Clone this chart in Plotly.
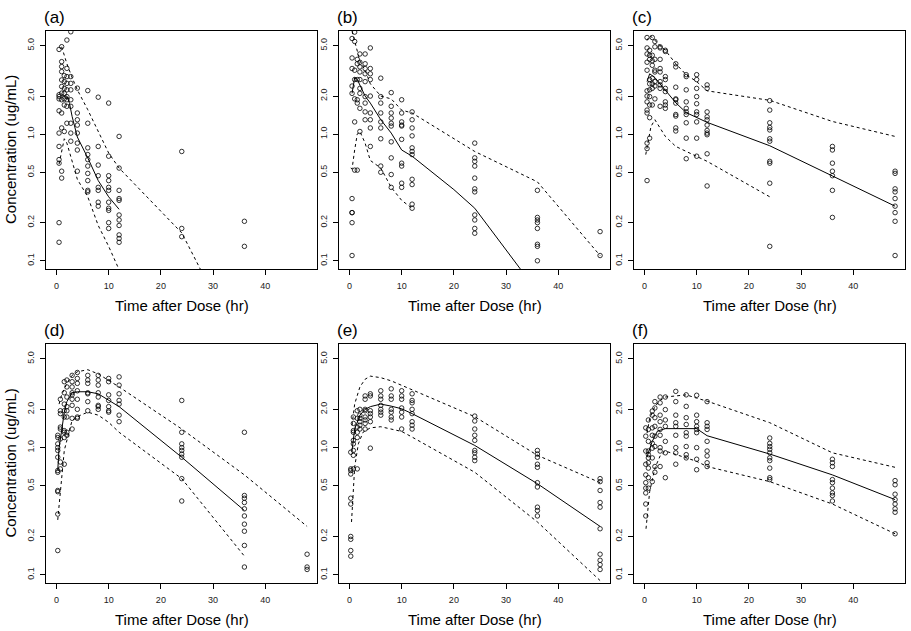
import plotly.graph_objects as go

# ---------------- data ----------------
# observed concentrations (ug/mL) grouped by nominal time (hr)
obs_t_a = [0.5, 1, 1.5, 2, 2.75, 4, 6, 8, 10, 12, 24, 36]
obs_c_a = [[4.67, 1.53, 1.02, 0.80, 0.63, 0.59, 0.20, 0.14, 1.98, 2.05, 1.9],
           [4.91, 3.74, 3.42, 3.12, 2.68, 2.38, 2.11, 1.87, 1.47, 1.12, 0.51, 0.45],
           [2.9, 2.6, 2.3, 2.1, 1.9, 1.7, 1.05],
           [5.54, 3.31, 2.85, 2.52, 2.24, 1.98, 1.87, 1.66, 1.22],
           [6.44, 2.85, 2.52, 2.24, 1.87, 1.66, 1.22, 1.02, 0.88],
           [2.31, 1.47, 1.30, 1.18, 1.02, 0.85, 0.75, 0.51],
           [2.21, 1.22, 0.78, 0.69, 0.63, 0.56, 0.49, 0.43, 0.36, 0.35],
           [1.96, 0.80, 0.57, 0.47, 0.38, 0.36, 0.29, 0.27],
           [1.76, 0.67, 0.47, 0.43, 0.38, 0.36, 0.29, 0.26, 0.25, 0.20, 0.18],
           [0.96, 0.54, 0.36, 0.31, 0.30, 0.23, 0.21, 0.19, 0.16, 0.15, 0.14],
           [0.73, 0.18, 0.155],
           [0.205, 0.13]]
med_t_a = [1, 2, 2.5, 3, 4, 6, 8, 10, 12]
med_a = [2.0, 2.0, 1.75, 1.38, 0.95, 0.65, 0.43, 0.32, 0.255]
up_t_a = [1, 2, 3, 4, 6, 8, 10, 12, 24, 36]
up_a = [4.9, 3.6, 2.8, 2.24, 1.56, 1.05, 0.71, 0.54, 0.166, 0.018]
lo_t_a = [0.5, 1.5, 2, 3, 4, 6, 8, 10, 12]
lo_a = [0.58, 0.92, 0.85, 0.6, 0.44, 0.32, 0.19, 0.13, 0.085]

obs_t_b = [0.5, 1, 1.5, 2, 3, 4, 6, 8, 10, 12, 24, 36, 48]
obs_c_b = [[5.7, 4.0, 3.3, 2.4, 2.1, 0.31, 0.24, 0.24, 0.2, 0.11],
           [6.4, 5.4, 3.2, 2.7, 1.9, 1.25, 0.52],
           [3.9, 3.6, 2.7, 1.87, 1.76, 0.52],
           [4.3, 3.7, 3.4, 3.1, 2.7, 2.3, 2.1, 1.6, 1.05],
           [4.3, 3.6, 3.3, 3.0, 2.6, 1.98, 1.76, 1.5, 1.3],
           [4.8, 3.3, 3.0, 2.7, 2.0, 1.47, 1.3, 1.12, 0.8],
           [2.77, 1.98, 1.76, 1.47, 1.25, 1.12, 0.92, 0.56, 0.5],
           [2.13, 1.66, 1.47, 1.34, 1.22, 1.16, 0.87, 0.65, 0.48, 0.38],
           [1.87, 1.47, 1.25, 1.18, 1.16, 0.91, 0.59, 0.56, 0.41, 0.38],
           [1.5, 1.3, 1.12, 0.97, 0.78, 0.73, 0.69, 0.44, 0.4, 0.28, 0.26],
           [0.85, 0.65, 0.61, 0.56, 0.45, 0.37, 0.35, 0.23, 0.21, 0.18, 0.165],
           [0.36, 0.22, 0.21, 0.2, 0.18, 0.135, 0.13, 0.1],
           [0.17, 0.11]]
med_t_b = [0.5, 1, 1.5, 2, 3, 4, 6, 8, 10, 12, 20, 24, 36]
med_b = [2.1, 2.8, 2.7, 2.45, 2.0, 1.76, 1.3, 1.02, 0.75, 0.67, 0.365, 0.26, 0.057]
up_t_b = [0.5, 1, 2, 3, 4, 6, 8, 10, 12, 24, 36, 48]
up_b = [6.5, 5.5, 3.8, 3.2, 2.5, 2.0, 1.9, 1.55, 1.47, 0.73, 0.42, 0.11]
lo_t_b = [0.25, 0.5, 1, 1.5, 2, 3, 4, 6, 8, 10, 12]
lo_b = [0.54, 0.53, 0.75, 1.0, 1.05, 0.85, 0.62, 0.54, 0.38, 0.3, 0.26]

obs_t_c = [0.5, 1, 1.5, 2, 3, 4, 6, 8, 10, 12, 24, 36, 48]
obs_c_c = [[5.8, 4.8, 3.7, 3.2, 4.3, 2.2, 2.0, 1.8, 1.55, 1.47, 0.85, 0.77, 0.43],
           [4.6, 4.2, 3.9, 2.7, 2.5, 2.24, 1.98, 1.7, 1.35, 0.93],
           [5.8, 4.2, 3.8, 3.5, 2.77, 2.5, 2.3, 1.7],
           [5.4, 4.9, 3.9, 3.2, 3.1, 2.6, 2.4, 1.9],
           [4.9, 4.8, 3.9, 3.3, 3.1, 2.6, 2.45, 2.3, 1.66],
           [4.6, 4.5, 2.85, 2.7, 2.3, 2.17, 1.8, 1.7, 1.6],
           [3.6, 3.4, 2.35, 1.9, 1.87, 1.76, 1.43, 1.39, 1.12, 1.06],
           [2.95, 2.85, 2.24, 1.8, 1.6, 1.5, 1.43, 1.23, 0.93, 0.64],
           [2.95, 2.7, 2.3, 1.98, 1.74, 1.5, 1.43, 1.25, 0.93, 0.67],
           [2.45, 2.3, 1.5, 1.37, 1.3, 1.18, 1.07, 1.02, 0.99, 0.7, 0.39],
           [1.84, 1.55, 1.23, 1.13, 1.08, 0.92, 0.88, 0.61, 0.59, 0.41, 0.13],
           [0.8, 0.75, 0.59, 0.51, 0.47, 0.36, 0.22],
           [0.51, 0.49, 0.37, 0.35, 0.31, 0.27, 0.24, 0.205, 0.11]]
med_t_c = [0.5, 1, 2, 3, 4, 6, 8, 10, 12, 24, 36, 48]
med_c = [2.6, 3.0, 2.8, 2.5, 2.2, 1.77, 1.48, 1.35, 1.24, 0.81, 0.47, 0.27]
up_t_c = [0.5, 1, 1.5, 2, 3, 4, 6, 8, 10, 12, 24, 36, 48]
up_c = [5.5, 6.0, 5.8, 5.5, 5.0, 4.6, 3.6, 2.95, 2.6, 2.2, 1.85, 1.26, 0.96]
lo_t_c = [0.25, 0.75, 1.25, 2, 3, 4, 6, 10, 12, 24]
lo_c = [0.69, 0.9, 1.15, 1.3, 1.12, 0.96, 0.8, 0.67, 0.61, 0.32]

obs_t_d = [0.25, 0.75, 1.5, 2, 3, 4, 6, 8, 10, 12, 24, 36, 48]
obs_c_d = [[0.155, 0.30, 0.45, 0.46, 0.64, 0.66, 0.84, 0.95, 1.0, 1.07, 1.2, 1.25],
           [0.68, 0.77, 1.17, 1.4, 1.45, 1.85, 1.95, 2.4],
           [1.36, 1.32, 1.74, 1.95, 2.2, 2.7, 3.3, 0.74, 1.2],
           [3.4, 3.0, 2.5, 2.1, 1.95, 1.74, 1.32, 1.25],
           [3.7, 3.3, 3.0, 2.7, 2.6, 2.4, 2.15, 1.7, 1.4],
           [3.9, 3.5, 3.2, 2.8, 2.4, 2.0, 1.74, 1.7],
           [3.7, 3.4, 3.2, 2.7, 2.65, 2.3, 1.95],
           [3.7, 3.4, 3.1, 2.7, 2.5, 2.15, 2.1, 2.0],
           [3.5, 3.3, 2.6, 2.35, 2.1, 1.95, 1.9],
           [3.6, 3.1, 2.65, 2.35, 2.2, 1.8, 1.6],
           [2.35, 1.32, 1.07, 1.0, 0.95, 0.89, 0.84, 0.57, 0.38],
           [1.32, 0.42, 0.4, 0.37, 0.33, 0.29, 0.25, 0.22, 0.17, 0.115],
           [0.145, 0.115, 0.11]]
med_t_d = [0.25, 0.5, 1, 1.5, 2, 3, 4, 6, 8, 10, 12, 24, 36]
med_d = [0.66, 1.0, 1.36, 1.9, 2.3, 2.7, 2.75, 2.75, 2.65, 2.35, 2.1, 0.84, 0.32]
up_t_d = [0.5, 1, 2, 3, 4, 6, 8, 10, 12, 24, 36, 48]
up_d = [2.2, 2.6, 3.2, 3.7, 3.95, 4.1, 3.8, 3.4, 3.0, 1.4, 0.61, 0.24]
lo_t_d = [0.25, 1, 1.5, 3, 4.5, 6, 8, 10, 12, 24, 36]
lo_d = [0.27, 0.55, 0.95, 1.64, 1.79, 1.9, 1.8, 1.58, 1.32, 0.57, 0.14]

obs_t_e = [0.25, 0.75, 1.5, 2, 3, 4, 6, 8, 10, 12, 24, 36, 48]
obs_c_e = [[0.14, 0.155, 0.19, 0.2, 0.36, 0.4, 0.62, 0.66, 0.68, 0.92],
           [0.68, 0.87, 1.07, 1.14, 1.36, 1.55, 1.74, 1.32, 0.95],
           [1.45, 1.32, 1.2, 1.7, 1.95, 0.68],
           [2.0, 1.8, 1.6, 1.4, 1.5, 1.7],
           [2.55, 2.4, 1.95, 1.74, 1.65, 1.55, 1.4, 2.0],
           [2.65, 2.55, 1.95, 1.85, 1.74, 1.6, 0.99],
           [2.8, 2.55, 2.4, 2.15, 2.0, 1.9, 1.8],
           [2.9, 2.55, 2.4, 2.0, 1.9, 1.74, 1.65],
           [2.8, 2.55, 2.4, 2.05, 1.9, 1.74, 1.4],
           [2.65, 2.35, 2.25, 2.0, 1.85, 1.6, 1.5, 1.4],
           [1.77, 1.62, 1.4, 1.25, 1.14, 0.95, 0.91, 0.84, 0.79],
           [0.95, 0.89, 0.84, 0.74, 0.7, 0.53, 0.49, 0.34, 0.32, 0.29],
           [0.57, 0.54, 0.46, 0.37, 0.34, 0.23, 0.145, 0.13, 0.12, 0.11]]
med_t_e = [0.5, 1, 2, 3, 4, 6, 8, 10, 12, 24, 36, 48]
med_e = [0.95, 1.4, 1.8, 2.0, 2.1, 2.2, 2.12, 2.02, 1.85, 1.04, 0.52, 0.24]
up_t_e = [0.5, 1, 2, 3, 4, 6, 8, 10, 12, 24, 36, 48]
up_e = [1.5, 2.2, 3.0, 3.45, 3.65, 3.55, 3.35, 3.1, 2.85, 1.75, 0.87, 0.53]
lo_t_e = [0.4, 0.7, 1, 1.7, 2.6, 4, 6, 10, 12, 24, 36, 48]
lo_e = [0.26, 0.46, 0.7, 1.07, 1.32, 1.43, 1.46, 1.34, 1.21, 0.64, 0.26, 0.09]

obs_t_f = [0.25, 0.75, 1.5, 2, 3, 4, 6, 8, 10, 12, 24, 36, 48]
obs_c_f = [[0.29, 0.36, 0.44, 0.48, 0.53, 0.61, 0.74, 0.94, 1.23, 1.43],
           [0.58, 0.69, 0.76, 0.83, 0.88, 0.94, 1.12, 1.39, 1.65, 0.48],
           [1.8, 1.94, 1.25, 1.08, 0.99, 0.83, 0.54, 1.43],
           [2.3, 2.05, 1.72, 1.47, 1.23, 1.02, 0.71, 0.64],
           [2.5, 2.25, 1.8, 1.6, 1.39, 1.25, 1.0, 0.94, 0.71],
           [2.5, 1.99, 1.65, 1.47, 1.12, 0.91, 0.58],
           [2.77, 2.3, 1.8, 1.57, 1.47, 1.25, 1.0, 0.91, 0.74],
           [2.6, 2.11, 1.72, 1.52, 1.31, 1.23, 1.02, 0.88, 0.83],
           [2.58, 1.8, 1.6, 1.47, 1.39, 1.31, 1.0, 0.81, 0.67],
           [2.3, 1.57, 1.47, 1.39, 1.12, 0.94, 0.86, 0.76, 0.71],
           [1.19, 1.08, 1.02, 0.97, 0.91, 0.83, 0.79, 0.69, 0.58, 0.56],
           [0.81, 0.76, 0.71, 0.56, 0.53, 0.48, 0.44, 0.42, 0.38],
           [0.55, 0.51, 0.43, 0.39, 0.36, 0.33, 0.31, 0.21]]
med_t_f = [0.5, 1.5, 2.5, 4, 6, 8, 10, 12, 24, 36, 48]
med_f = [0.85, 1.12, 1.35, 1.41, 1.41, 1.41, 1.41, 1.24, 0.89, 0.61, 0.39]
up_t_f = [0.5, 1, 2, 3, 4, 6, 8, 10, 12, 24, 36, 48]
up_f = [1.3, 1.7, 2.1, 2.35, 2.5, 2.55, 2.6, 2.45, 2.32, 1.57, 0.91, 0.70]
lo_t_f = [0.3, 1, 2, 3, 4, 6, 8, 10, 12, 24, 36, 48]
lo_f = [0.23, 0.45, 0.69, 0.86, 0.94, 0.88, 0.83, 0.78, 0.71, 0.54, 0.36, 0.21]

panel_labels = ["(a)", "(b)", "(c)", "(d)", "(e)", "(f)"]
x_ticks = [0, 10, 20, 30, 40]
y_ticks = [0.1, 0.2, 0.5, 1, 2, 5]
y_tick_text = ["0.1", "0.2", "0.5", "1.0", "2.0", "5.0"]
x_title = "Time after Dose (hr)"
y_title = "Concentration (ug/mL)"

panels = [
    (obs_t_a, obs_c_a, med_t_a, med_a, up_t_a, up_a, lo_t_a, lo_a),
    (obs_t_b, obs_c_b, med_t_b, med_b, up_t_b, up_b, lo_t_b, lo_b),
    (obs_t_c, obs_c_c, med_t_c, med_c, up_t_c, up_c, lo_t_c, lo_c),
    (obs_t_d, obs_c_d, med_t_d, med_d, up_t_d, up_d, lo_t_d, lo_d),
    (obs_t_e, obs_c_e, med_t_e, med_e, up_t_e, up_e, lo_t_e, lo_e),
    (obs_t_f, obs_c_f, med_t_f, med_f, up_t_f, up_f, lo_t_f, lo_f),
]

# ---------------- layout geometry (pixels) ----------------
W, H = 911, 631
box_x = [(46, 317), (339, 610), (634, 905)]
box_y = [(31, 269), (344, 583)]

FONT = "Liberation Sans, Arial, sans-serif"
fig = go.Figure()
annotations = []
layout = {}

for i, (ot, oc, mt, mv, ut, uv, lt, lv) in enumerate(panels):
    k = i + 1
    xs = "" if k == 1 else str(k)
    col, row = i % 3, i // 3
    x0, x1 = box_x[col]
    y0, y1 = box_y[row]

    px, py = [], []
    for t, vals in zip(ot, oc):
        for v in vals:
            px.append(t)
            py.append(v)

    fig.add_trace(go.Scatter(x=px, y=py, mode="markers", xaxis="x" + xs, yaxis="y" + xs,
                             marker=dict(symbol="circle-open", size=4.5, color="black",
                                         line=dict(width=0.8, color="black")),
                             showlegend=False, hoverinfo="x+y"))
    fig.add_trace(go.Scatter(x=mt, y=mv, mode="lines", xaxis="x" + xs, yaxis="y" + xs,
                             line=dict(color="black", width=1), showlegend=False))
    for lt_, lv_ in ((ut, uv), (lt, lv)):
        fig.add_trace(go.Scatter(x=lt_, y=lv_, mode="lines", xaxis="x" + xs, yaxis="y" + xs,
                                 line=dict(color="black", width=1, dash="3px,3px"),
                                 showlegend=False))

    layout["xaxis" + xs] = dict(
        domain=[x0 / W, x1 / W], anchor="y" + xs, range=[-2, 49.9],
        tickvals=x_ticks, ticks="outside", ticklen=5, tickcolor="black",
        ticklabelstandoff=3,
        tickfont=dict(family=FONT, size=9, color="#222"),
        showline=True, mirror=True, linecolor="black", linewidth=1,
        showgrid=False, zeroline=False)
    layout["yaxis" + xs] = dict(
        domain=[1 - y1 / H, 1 - y0 / H], anchor="x" + xs, type="log",
        range=[-1.065, 0.815], tickvals=y_ticks, ticktext=y_tick_text,
        tickangle=-90, ticks="outside", ticklen=5, tickcolor="black",
        ticklabelstandoff=2,
        tickfont=dict(family=FONT, size=9, color="#222"),
        showline=True, mirror=True, linecolor="black", linewidth=1,
        showgrid=False, zeroline=False)

    annotations.append(dict(text=panel_labels[i], xref="paper", yref="paper",
                            x=(x0 - 4) / W, y=1 - (y0 - 14) / H, xanchor="left",
                            yanchor="middle", showarrow=False,
                            font=dict(family=FONT, size=17, color="black")))
    annotations.append(dict(text=x_title, xref="paper", yref="paper",
                            x=(x0 + x1) / 2 / W, y=1 - (y1 + 36) / H, xanchor="center",
                            yanchor="middle", showarrow=False,
                            font=dict(family=FONT, size=15, color="black")))
    if col == 0:
        annotations.append(dict(text=y_title, xref="paper", yref="paper",
                                x=10 / W, y=1 - (y0 + y1) / 2 / H, xanchor="center",
                                yanchor="middle", textangle=-90, showarrow=False,
                                font=dict(family=FONT, size=15, color="black")))

fig.update_layout(width=W, height=H, margin=dict(l=0, r=0, t=0, b=0),
                  paper_bgcolor="white", plot_bgcolor="white",
                  annotations=annotations, showlegend=False, **layout)

fig.write_html("out.html", config={"displayModeBar": False},
               post_script="document.body.style.margin='0px';"
                           "document.body.style.overflow='hidden';")
